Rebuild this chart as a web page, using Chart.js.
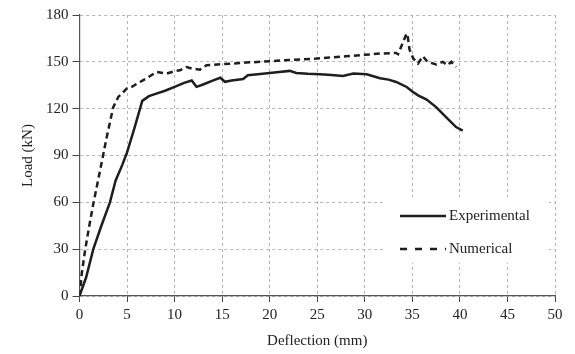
<!DOCTYPE html>
<html>
<head>
<meta charset="utf-8">
<script src="https://cdn.jsdelivr.net/npm/chart.js@4/dist/chart.umd.min.js"></script>
<style>
  html, body { margin: 0; padding: 0; background: #fff; }
  canvas { display: block; }
</style>
</head>
<body>
<canvas id="chart" width="575" height="354"></canvas>
<script>
// Experimental curve (deflection mm, load kN)
const expDeflection = [0, 0.7, 1.45, 2.3, 3.2, 3.8, 4.5, 5, 5.8, 6.6, 7.3, 8, 9, 10, 11, 11.8, 12.3, 13, 14, 14.8, 15.3, 16, 17.2, 17.7, 19, 20, 21, 22.1, 22.8, 24, 25.3, 26.5, 27.7, 28.8, 30.2, 31.6, 32.5, 33.3, 34.4, 35, 35.6, 36.5, 37.5, 38.7, 39.6, 40.3];
const expLoad = [0, 12, 30, 45, 60, 74, 84, 92, 108, 125, 128, 129.5, 131.5, 134, 136.5, 138, 134, 135.5, 138, 139.8, 137.2, 138, 139, 141.4, 142.2, 142.9, 143.5, 144.2, 142.9, 142.3, 142, 141.5, 141, 142.5, 142, 139.5, 138.6, 137.1, 133.9, 131, 128.5, 125.8, 121, 113.6, 108.2, 106];

// Numerical curve
const numDeflection = [0, 0.1, 0.23, 0.58, 1, 1.45, 2.15, 2.86, 3.55, 4.08, 4.96, 5.5, 6.36, 7.2, 8.1, 8.6, 9.16, 10, 10.56, 11.26, 11.8, 12.66, 13.36, 15, 17.5, 20, 22.5, 24.9, 26.3, 28, 30, 31.6, 33.3, 33.5, 34.4, 34.5, 34.7, 35.1, 35.6, 36.1, 36.6, 37.5, 38.2, 38.7, 39.1, 39.6];
const numLoad = [0, 5, 14, 29, 44, 59, 80, 101.7, 121, 127.5, 132.8, 134, 137.1, 140, 143.5, 143, 142.5, 144, 144.6, 146.7, 145.7, 145, 147.8, 148.5, 149.5, 150.4, 151.3, 152.1, 152.8, 153.5, 154.5, 155.3, 155.7, 154.9, 168.2, 167, 157.9, 152.1, 148.9, 153.6, 150, 148.3, 150, 147.8, 150, 146.7];

const seriesLabels = ['Experimental', 'Numerical'];
const xTicks = [0, 5, 10, 15, 20, 25, 30, 35, 40, 45, 50];
const yTicks = [0, 30, 60, 90, 120, 150, 180];

const serif = '"Liberation Serif", "DejaVu Serif", serif';
const inkColor = '#1e1e1e';

function toPoints(xs, ys) {
    return xs.map((x, i) => ({ x: x, y: ys[i] }));
}

// Legend drawn inside the plot area, on a white box over the grid
const insideLegend = {
    id: 'insideLegend',
    afterDatasetsDraw(chart) {
        const ctx = chart.ctx;
        ctx.save();
        ctx.fillStyle = '#fff';
        ctx.fillRect(383, 197, 166, 66);
        const rows = [
            { y: 216, dash: [] },
            { y: 249, dash: [7, 8] }
        ];
        ctx.font = '15px ' + serif;
        ctx.textBaseline = 'middle';
        rows.forEach((row, i) => {
            ctx.strokeStyle = inkColor;
            ctx.lineWidth = 2.5;
            ctx.setLineDash(row.dash);
            ctx.beginPath();
            ctx.moveTo(400, row.y);
            ctx.lineTo(446, row.y);
            ctx.stroke();
            ctx.setLineDash([]);
            ctx.fillStyle = '#222';
            ctx.fillText(seriesLabels[i], 449, row.y);
        });
        ctx.restore();
    }
};

new Chart(document.getElementById('chart').getContext('2d'), {
    type: 'line',
    data: {
        datasets: [
            {
                label: seriesLabels[0],
                data: toPoints(expDeflection, expLoad),
                borderColor: inkColor,
                borderWidth: 2.5,
                pointRadius: 0,
                tension: 0
            },
            {
                label: seriesLabels[1],
                data: toPoints(numDeflection, numLoad),
                borderColor: inkColor,
                borderWidth: 2.5,
                borderDash: [6, 4],
                pointRadius: 0,
                tension: 0
            }
        ]
    },
    options: {
        responsive: false,
        animation: false,
        layout: { padding: { top: 15, right: 20, left: 19, bottom: 4 } },
        plugins: {
            legend: { display: false },
            tooltip: { enabled: false }
        },
        scales: {
            x: {
                type: 'linear',
                min: 0,
                max: 50,
                afterBuildTicks: axis => { axis.ticks = xTicks.map(v => ({ value: v })); },
                grid: {
                    color: '#b5b5b5',
                    tickColor: '#444',
                    tickLength: 6,
                    tickBorderDash: []
                },
                border: { color: '#555', width: 1.2, dash: [3, 3] },
                ticks: { color: '#222', font: { family: serif, size: 15 }, padding: 4, maxRotation: 0 },
                title: { display: true, text: 'Deflection (mm)', color: '#222', font: { family: serif, size: 15 }, padding: { top: 4, bottom: 0 } }
            },
            y: {
                min: 0,
                max: 180,
                afterBuildTicks: axis => { axis.ticks = yTicks.map(v => ({ value: v })); },
                grid: {
                    color: '#b5b5b5',
                    tickColor: '#444',
                    tickLength: 7,
                    tickBorderDash: []
                },
                border: { color: '#555', width: 1.2, dash: [3, 3] },
                ticks: { color: '#222', font: { family: serif, size: 15 }, padding: 4 },
                title: { display: true, text: 'Load (kN)', color: '#222', font: { family: serif, size: 15 }, padding: { top: 0, bottom: 5 } }
            }
        }
    },
    plugins: [insideLegend]
});
</script>
</body>
</html>
